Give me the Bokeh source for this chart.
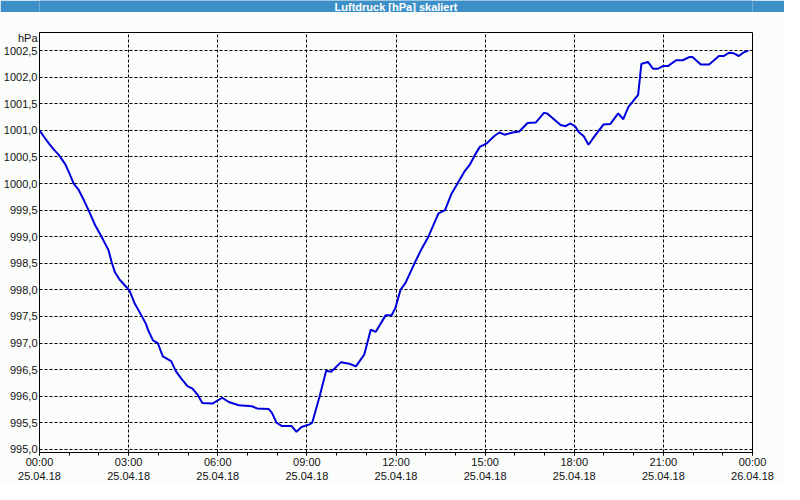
from bokeh.plotting import figure
from bokeh.models import FixedTicker
from bokeh.layouts import column
from bokeh.embed import file_html
from bokeh.resources import INLINE
from bokeh.core.properties import value

title_text = "Luftdruck [hPa] skaliert"
unit_label = "hPa"
unit_label_pos = 1002.744

hours = [0.00, 0.15, 0.32, 0.50, 0.65, 0.87, 1.00, 1.15, 1.32, 1.50, 1.65, 1.87, 2.09, 2.20, 2.32,
         2.43, 2.54, 2.70, 2.93, 3.04, 3.20, 3.43, 3.59, 3.65, 3.82, 3.98, 4.15, 4.43, 4.59, 4.76,
         4.98, 5.15, 5.32, 5.48, 5.82, 6.15, 6.37, 6.71, 7.15, 7.32, 7.71, 7.82, 7.98, 8.15, 8.48,
         8.65, 8.82, 9.09, 9.18, 9.43, 9.65, 9.82, 10.15, 10.43, 10.65, 10.93, 11.15, 11.32, 11.65,
         11.85, 11.98, 12.15, 12.32, 12.65, 12.87, 13.09, 13.43, 13.65, 13.87, 14.09, 14.32, 14.48,
         14.65, 14.82, 15.04, 15.32, 15.48, 15.65, 15.93, 16.15, 16.43, 16.71, 16.98, 17.09, 17.54,
         17.71, 17.87, 18.04, 18.15, 18.32, 18.48, 18.71, 18.98, 19.21, 19.48, 19.65, 19.82, 19.98,
         20.15, 20.26, 20.48, 20.65, 20.82, 20.98, 21.15, 21.43, 21.65, 21.87, 21.98, 22.26, 22.54,
         22.87, 23.04, 23.20, 23.37, 23.54, 23.71, 23.86]

pressure = [1001.00, 1000.88, 1000.75, 1000.63, 1000.54, 1000.36, 1000.20, 1000.00, 999.88, 999.68,
            999.50, 999.22, 999.00, 998.88, 998.75, 998.52, 998.33, 998.19, 998.05, 997.97, 997.75,
            997.52, 997.35, 997.25, 997.05, 997.00, 996.75, 996.66, 996.47, 996.34, 996.19, 996.14,
            996.03, 995.87, 995.86, 995.97, 995.89, 995.83, 995.81, 995.77, 995.76, 995.69, 995.50,
            995.44, 995.44, 995.33, 995.42, 995.47, 995.50, 996.00, 996.48, 996.46, 996.64, 996.61,
            996.56, 996.78, 997.25, 997.21, 997.52, 997.52, 997.66, 998.00, 998.13, 998.53, 998.78,
            999.00, 999.44, 999.50, 999.81, 1000.02, 1000.24, 1000.35, 1000.53, 1000.69, 1000.75,
            1000.90, 1000.96, 1000.92, 1000.96, 1000.98, 1001.14, 1001.15, 1001.33, 1001.32, 1001.10,
            1001.08, 1001.13, 1001.07, 1000.97, 1000.89, 1000.73, 1000.91, 1001.11, 1001.12, 1001.32,
            1001.21, 1001.44, 1001.55, 1001.67, 1002.25, 1002.29, 1002.16, 1002.16, 1002.21, 1002.21,
            1002.32, 1002.32, 1002.38, 1002.38, 1002.24, 1002.24, 1002.40, 1002.40, 1002.46, 1002.45,
            1002.40, 1002.47, 1002.50]

x_ticks = [0, 3, 6, 9, 12, 15, 18, 21, 24]
x_minor_ticks = list(range(0, 25))
x_tick_labels = ["00:00\n25.04.18", "03:00\n25.04.18", "06:00\n25.04.18", "09:00\n25.04.18",
                 "12:00\n25.04.18", "15:00\n25.04.18", "18:00\n25.04.18", "21:00\n25.04.18",
                 "00:00\n26.04.18"]
y_ticks = [995.0, 995.5, 996.0, 996.5, 997.0, 997.5, 998.0, 998.5, 999.0, 999.5,
           1000.0, 1000.5, 1001.0, 1001.5, 1002.0, 1002.5]
y_tick_labels = ["995,0", "995,5", "996,0", "996,5", "997,0", "997,5", "998,0", "998,5", "999,0",
                 "999,5", "1000,0", "1000,5", "1001,0", "1001,5", "1002,0", "1002,5"]

BG = "#FBFDFB"
BLUE = "#3D8FC7"
FONT = "Liberation Sans"
TXT = "#111111"

head = figure(width=784, height=12, x_range=(0, 1), y_range=(0, 1), output_backend="svg",
              toolbar_location=None, x_axis_location=None, y_axis_location=None, min_border=0,
              background_fill_color=BLUE, border_fill_color=BLUE, outline_line_color=None)
head.grid.visible = False
head.text(x=[0.5], y=[0.45], text=[title_text], text_align="center", text_baseline="middle",
          text_color="white", text_font=value(FONT), text_font_style="bold", text_font_size="11px")

p = figure(width=784, height=472, x_range=(0, 24), y_range=(994.94, 1002.842),
           output_backend="svg", toolbar_location=None,
           min_border_left=34, min_border_right=32, min_border_top=20, min_border_bottom=30,
           background_fill_color=BG, border_fill_color=BG,
           outline_line_color="black", outline_line_width=1)

p.line(hours, pressure, line_color="#0000DD", line_width=2)

p.xaxis.ticker = FixedTicker(ticks=x_ticks, minor_ticks=x_minor_ticks)
p.xaxis.major_label_overrides = dict(zip(x_ticks, x_tick_labels))
p.xaxis.major_tick_in = 0
p.xaxis.major_tick_out = 3
p.xaxis.minor_tick_in = 0
p.xaxis.minor_tick_out = 3
p.xaxis.major_label_standoff = 0
p.xaxis.axis_line_color = "black"
p.xaxis.major_tick_line_color = "black"
p.xaxis.minor_tick_line_color = "black"

# y axis: value ticks plus the unit caption placed beside the top of the axis
p.yaxis.ticker = FixedTicker(ticks=y_ticks + [unit_label_pos], minor_ticks=[])
p.yaxis.major_label_overrides = dict(zip(y_ticks + [unit_label_pos], y_tick_labels + [unit_label]))
p.yaxis.major_tick_in = 0
p.yaxis.major_tick_out = 0
p.yaxis.minor_tick_in = 0
p.yaxis.minor_tick_out = 0
p.yaxis.major_label_standoff = 2
p.yaxis.axis_line_color = "black"

for ax in (p.xaxis, p.yaxis):
    ax.major_label_text_font = FONT
    ax.major_label_text_font_size = "11px"
    ax.major_label_text_color = TXT

p.xgrid.ticker = FixedTicker(ticks=x_ticks)
p.ygrid.ticker = FixedTicker(ticks=y_ticks)
for g in (p.xgrid, p.ygrid):
    g.grid_line_color = "black"
    g.grid_line_dash = "3 2"
    g.grid_line_width = 1

layout = column(head, p)
open("out.html", "w").write(file_html(layout, INLINE))
